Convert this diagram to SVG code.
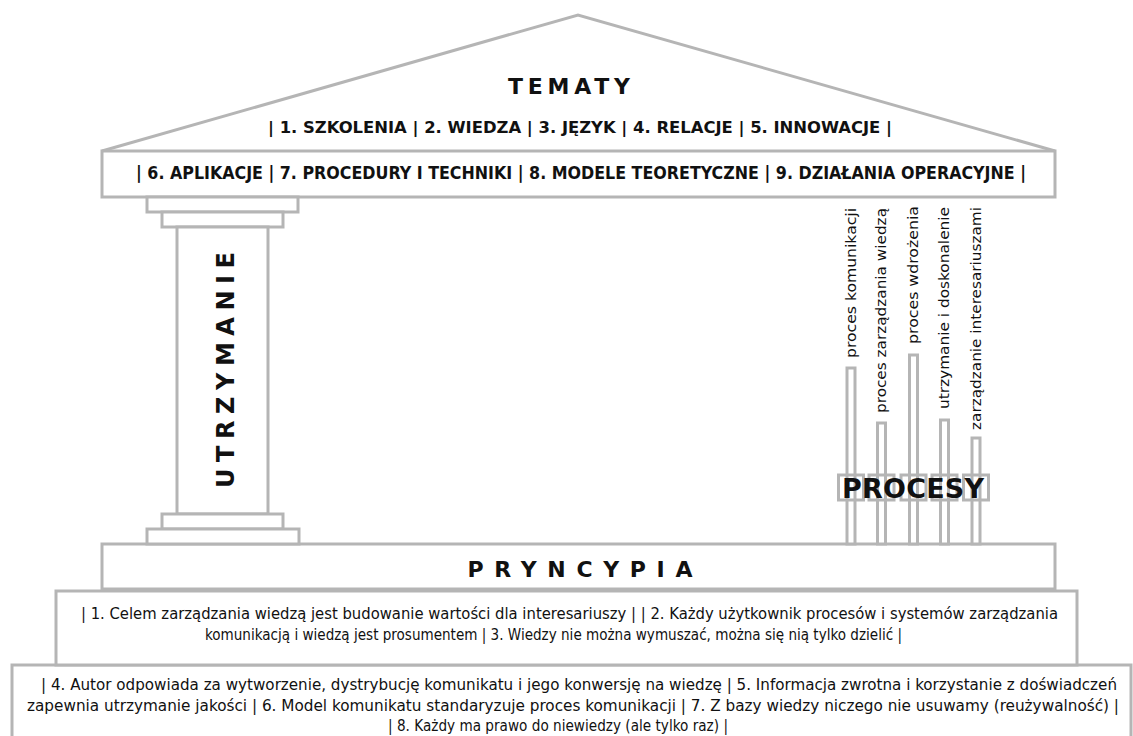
<svg xmlns="http://www.w3.org/2000/svg" width="1133" height="736" viewBox="0 0 1133 736">
<style>
.s{fill:#fff;stroke:#b5b5b5;stroke-width:3}
.o{fill:none;stroke:#b5b5b5;stroke-width:3}
.h{font-family:"DejaVu Sans",sans-serif;font-weight:bold;fill:#111}
.t{font-family:"DejaVu Sans Condensed","DejaVu Sans",sans-serif;font-weight:bold;fill:#111}
.p{font-family:"DejaVu Sans Condensed","DejaVu Sans",sans-serif;fill:#111;font-size:15px}
.l{font-family:"DejaVu Sans",sans-serif;fill:#111;font-size:14.5px}
</style>
<rect width="1133" height="736" fill="#fff"/>
<g id="principles-2">
<rect class="s" x="12" y="665" width="1119" height="80"/>
<text class="p" x="41" y="690" textLength="1076" lengthAdjust="spacingAndGlyphs">| 4. Autor odpowiada za wytworzenie, dystrybucję komunikatu i jego konwersję na wiedzę | 5. Informacja zwrotna i korzystanie z doświadczeń</text>
<text class="p" x="27" y="711" textLength="1092" lengthAdjust="spacingAndGlyphs">zapewnia utrzymanie jakości | 6. Model komunikatu standaryzuje proces komunikacji | 7. Z bazy wiedzy niczego nie usuwamy (reużywalność) |</text>
<text class="p" x="558" y="731" text-anchor="middle" textLength="340" lengthAdjust="spacingAndGlyphs">| 8. Każdy ma prawo do niewiedzy (ale tylko raz) |</text>
</g>
<g id="principles-1">
<rect class="s" x="56" y="591" width="1021" height="74"/>
<text class="p" x="81" y="619" textLength="977" lengthAdjust="spacingAndGlyphs">| 1. Celem zarządzania wiedzą jest budowanie wartości dla interesariuszy | | 2. Każdy użytkownik procesów i systemów zarządzania</text>
<text class="p" x="205" y="640" textLength="697" lengthAdjust="spacingAndGlyphs">komunikacją i wiedzą jest prosumentem | 3. Wiedzy nie można wymuszać, można się nią tylko dzielić |</text>
</g>
<g id="pryncypia">
<rect class="s" x="102" y="544" width="953" height="45"/>
<text class="h" x="580" y="577" font-size="22" text-anchor="middle" textLength="225">PRYNCYPIA</text>
</g>
<g id="roof">
<polyline class="s" points="102,151 578,15 1055,151"/>
<text class="h" x="569" y="94" font-size="22" text-anchor="middle" textLength="122">TEMATY</text>
<text class="t" x="580" y="133" font-size="16" text-anchor="middle" textLength="624" lengthAdjust="spacingAndGlyphs">| 1. SZKOLENIA | 2. WIEDZA | 3. JĘZYK | 4. RELACJE | 5. INNOWACJE |</text>
</g>
<g id="beam">
<rect class="s" x="102" y="151" width="953" height="46"/>
<text class="t" x="581" y="179" font-size="17" text-anchor="middle" textLength="890" lengthAdjust="spacingAndGlyphs">| 6. APLIKACJE | 7. PROCEDURY I TECHNIKI | 8. MODELE TEORETYCZNE | 9. DZIAŁANIA OPERACYJNE |</text>
</g>
<g id="column">
<rect class="s" x="147" y="197" width="151" height="15"/>
<rect class="s" x="162" y="212" width="121" height="15"/>
<rect class="s" x="177" y="227" width="91" height="287"/>
<rect class="s" x="162" y="514" width="121" height="15"/>
<rect class="s" x="147" y="529" width="152" height="15"/>
<text class="h" transform="translate(234,370) rotate(-90)" font-size="24" text-anchor="middle" textLength="236">UTRZYMANIE</text>
</g>
<g id="processes">
<rect class="s" x="847" y="368" width="8" height="176"/>
<rect class="s" x="877.5" y="423" width="8" height="121"/>
<rect class="s" x="909.5" y="355" width="8" height="189"/>
<rect class="s" x="940.5" y="420" width="8" height="124"/>
<rect class="s" x="972" y="438" width="8" height="106"/>
<rect class="o" x="838.5" y="475" width="25" height="25"/>
<rect class="o" x="869" y="475" width="25" height="25"/>
<rect class="o" x="901" y="475" width="25" height="25"/>
<rect class="o" x="932" y="475" width="25" height="25"/>
<rect class="o" x="963.5" y="475" width="25" height="25"/>
<text class="h" x="913" y="498" font-size="27" text-anchor="middle" textLength="142">PROCESY</text>
<text class="l" transform="translate(855.5,358) rotate(-90)" textLength="150" lengthAdjust="spacingAndGlyphs">proces komunikacji</text>
<text class="l" transform="translate(886,413) rotate(-90)" textLength="205" lengthAdjust="spacingAndGlyphs">proces zarządzania wiedzą</text>
<text class="l" transform="translate(918,344) rotate(-90)" textLength="138" lengthAdjust="spacingAndGlyphs">proces wdrożenia</text>
<text class="l" transform="translate(949,409) rotate(-90)" textLength="202" lengthAdjust="spacingAndGlyphs">utrzymanie i doskonalenie</text>
<text class="l" transform="translate(980.5,430) rotate(-90)" textLength="223" lengthAdjust="spacingAndGlyphs">zarządzanie interesariuszami</text>
</g>
</svg>
